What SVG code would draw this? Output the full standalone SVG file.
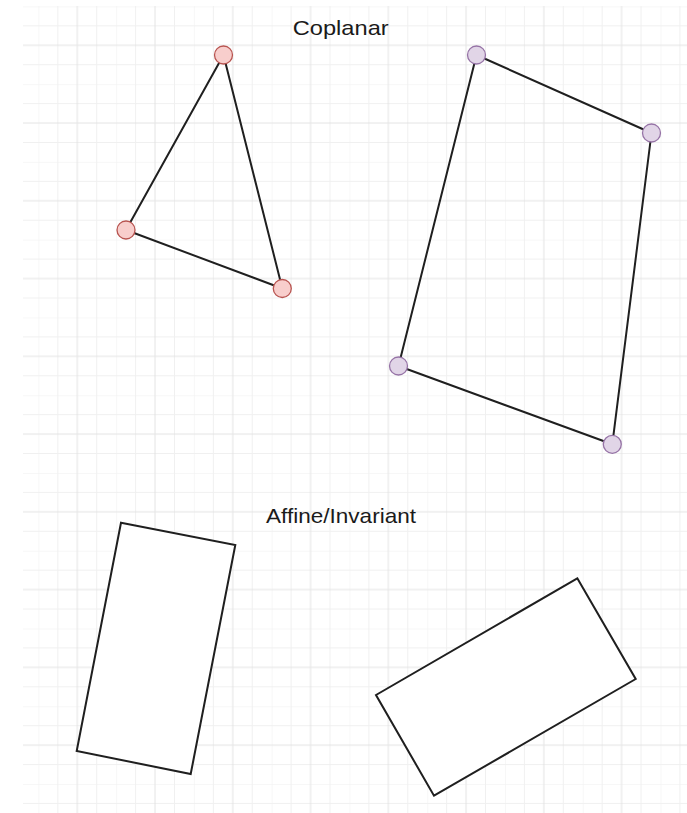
<svg xmlns="http://www.w3.org/2000/svg" width="687" height="813" viewBox="0 0 687 813">
  <style>
    .lbl { font-family: "Liberation Sans", Arial, sans-serif; font-size: 21px; fill: #1a1a1a; }
    .edge { stroke: #1f1f1f; stroke-width: 2; fill: none; stroke-linecap: round; }
    .red { fill: #f8cecc; stroke: #b85450; stroke-width: 1.3; }
    .purple { fill: #e1d5e7; stroke: #9673a6; stroke-width: 1.3; }
    .box { fill: #ffffff; stroke: #1f1f1f; stroke-width: 2; stroke-linejoin: miter; }
  </style>
  <defs>
    <pattern id="grid" patternUnits="userSpaceOnUse" x="38.4" y="6.4" width="77.76" height="77.76">
      <g stroke="#f0f0f0" stroke-width="1">
        <line x1="0" y1="0" x2="0" y2="77.76"/>
        <line x1="19.44" y1="0" x2="19.44" y2="77.76"/>
        <line x1="58.32" y1="0" x2="58.32" y2="77.76"/>
        <line x1="0" y1="0" x2="77.76" y2="0"/>
        <line x1="0" y1="19.44" x2="77.76" y2="19.44"/>
        <line x1="0" y1="58.32" x2="77.76" y2="58.32"/>
      </g>
      <g stroke="#e3e3e3" stroke-width="1">
        <line x1="38.88" y1="0" x2="38.88" y2="77.76"/>
        <line x1="0" y1="38.88" x2="77.76" y2="38.88"/>
      </g>
    </pattern>
  </defs>
  <rect width="687" height="813" fill="#ffffff"/>
  <rect id="grid-bg" x="23" y="6" width="664" height="807" fill="url(#grid)"/>

  <text id="title-coplanar" class="lbl" x="292.7" y="35" textLength="96" lengthAdjust="spacingAndGlyphs">Coplanar</text>
  <text id="title-affine" class="lbl" x="266" y="522.5" textLength="150" lengthAdjust="spacingAndGlyphs">Affine/Invariant</text>

  <g id="connectors">
    <line class="edge" x1="223.5" y1="55" x2="126" y2="230"/>
    <line class="edge" x1="223.5" y1="55" x2="282.3" y2="288.5"/>
    <line class="edge" x1="126" y1="230" x2="282.3" y2="288.5"/>
    <line class="edge" x1="476.5" y1="55" x2="651.5" y2="133"/>
    <line class="edge" x1="651.5" y1="133" x2="612.3" y2="444.3"/>
    <line class="edge" x1="612.3" y1="444.3" x2="398.5" y2="366"/>
    <line class="edge" x1="398.5" y1="366" x2="476.5" y2="55"/>
  </g>

  <g id="node-r1"><circle class="red" cx="223.5" cy="55" r="9"/></g>
  <g id="node-r2"><circle class="red" cx="126" cy="230" r="9"/></g>
  <g id="node-r3"><circle class="red" cx="282.3" cy="288.5" r="9"/></g>

  <g id="node-p1"><circle class="purple" cx="476.5" cy="55" r="9"/></g>
  <g id="node-p2"><circle class="purple" cx="651.5" cy="133" r="9"/></g>
  <g id="node-p3"><circle class="purple" cx="398.5" cy="366" r="9"/></g>
  <g id="node-p4"><circle class="purple" cx="612.3" cy="444.3" r="9"/></g>

  <g id="node-rect1"><polygon class="box" points="121,522.7 235.3,545 190.7,774 76.7,751"/></g>
  <g id="node-rect2"><polygon class="box" points="577.3,578.3 635.7,679 434,795.7 376,695"/></g>
</svg>
